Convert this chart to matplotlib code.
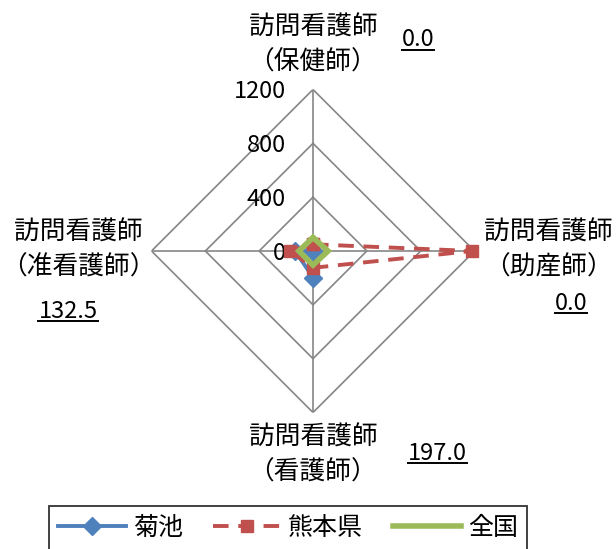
import numpy as np
import matplotlib
matplotlib.use("Agg")
import matplotlib.pyplot as plt
from matplotlib.transforms import ScaledTranslation
from matplotlib.lines import Line2D

plt.rcParams['font.family'] = ['Noto Sans CJK JP', 'DejaVu Sans']

# ---- data ----
axis_labels = ['訪問看護師\n（保健師）', '訪問看護師\n（助産師）',
               '訪問看護師\n（看護師）', '訪問看護師\n（准看護師）']
kikuchi = [0.0, 0.0, 197.0, 132.5]
kumamoto = [50, 1180, 125, 170]
zenkoku = [100, 112, 105, 105]
value_labels = ['0.0', '0.0', '197.0', '132.5']
ticks = [0, 400, 800, 1200]
series_names = ['菊池', '熊本県', '全国']

W, H = 616, 549
DPI = 100
fig = plt.figure(figsize=(W / DPI, H / DPI), dpi=DPI)

cx, cy, R = 313, 251, 161.5
ax = fig.add_axes([(cx - R) / W, (H - cy - R) / H, 2 * R / W, 2 * R / H],
                  projection='polar')
ax.set_theta_zero_location('N')
ax.set_theta_direction(-1)
ax.set_ylim(0, 1200)
ax.grid(False)
ax.spines['polar'].set_visible(False)
ax.set_xticks([])
ax.set_yticks([])
ax.patch.set_alpha(0)

n = len(axis_labels)
theta = np.arange(n) * 2 * np.pi / n
theta_c = np.append(theta, theta[0])

grid_col = '#868686'
for t in ticks[1:]:
    ax.plot(theta_c, [t] * (n + 1), color=grid_col, lw=1.2, zorder=1)
for th in theta:
    ax.plot([th, th], [0, ticks[-1]], color=grid_col, lw=1.2, zorder=1)

# tick labels
off = ScaledTranslation(-27 / DPI, -2 / DPI, fig.dpi_scale_trans)
for t in ticks:
    ax.text(0, t, str(t), transform=ax.transData + off, ha='right', va='center',
            fontsize=17, color='black', zorder=2)

def closed(v):
    return list(v) + [v[0]]

blue = '#4F81BD'
red = '#C0504D'
green = '#9BBB59'
l1, = ax.plot(theta_c, closed(kikuchi), color=blue, lw=2.8, marker='D',
              markersize=9, zorder=3, clip_on=False)
l2, = ax.plot(theta_c, closed(kumamoto), color=red, lw=2.8, ls=(0, (4, 2.5)),
              marker='s', markersize=9, zorder=4, clip_on=False)
l3, = ax.plot(theta_c, closed(zenkoku), color=green, lw=4, zorder=5,
              solid_joinstyle='miter', clip_on=False)

# axis category labels (pixel positions)
cat_pos = [(313, 45), (548, 250), (313, 455), (78, 250)]
for (x, y), lab in zip(cat_pos, axis_labels):
    fig.text(x / W, 1 - y / H, lab, ha='center', va='center', fontsize=18.5,
             linespacing=1.42)

# underlined value labels
val_pos = [(418, 40), (571, 303), (437, 453), (68, 311)]
txts = []
for (x, y), lab in zip(val_pos, value_labels):
    txts.append(fig.text(x / W, 1 - y / H, lab, ha='center', va='center',
                         fontsize=17))

leg = fig.legend([l1, l2, l3], series_names, loc='upper center',
                 bbox_to_anchor=(288 / W, 1 - 506 / H), ncol=3, fontsize=18,
                 frameon=True, fancybox=False, edgecolor='black',
                 handlelength=2.7, handletextpad=0.3, columnspacing=1.2,
                 borderpad=0.35, borderaxespad=0)
leg.get_frame().set_linewidth(1.3)

fig.canvas.draw()
renderer = fig.canvas.get_renderer()
for t in txts:
    bb = t.get_window_extent(renderer)
    yline = bb.y0 + 1.5
    fig.add_artist(Line2D([bb.x0 / W, bb.x1 / W], [yline / H, yline / H],
                          color='black', lw=1.4, transform=fig.transFigure))

fig.savefig('out.png', dpi=DPI)
